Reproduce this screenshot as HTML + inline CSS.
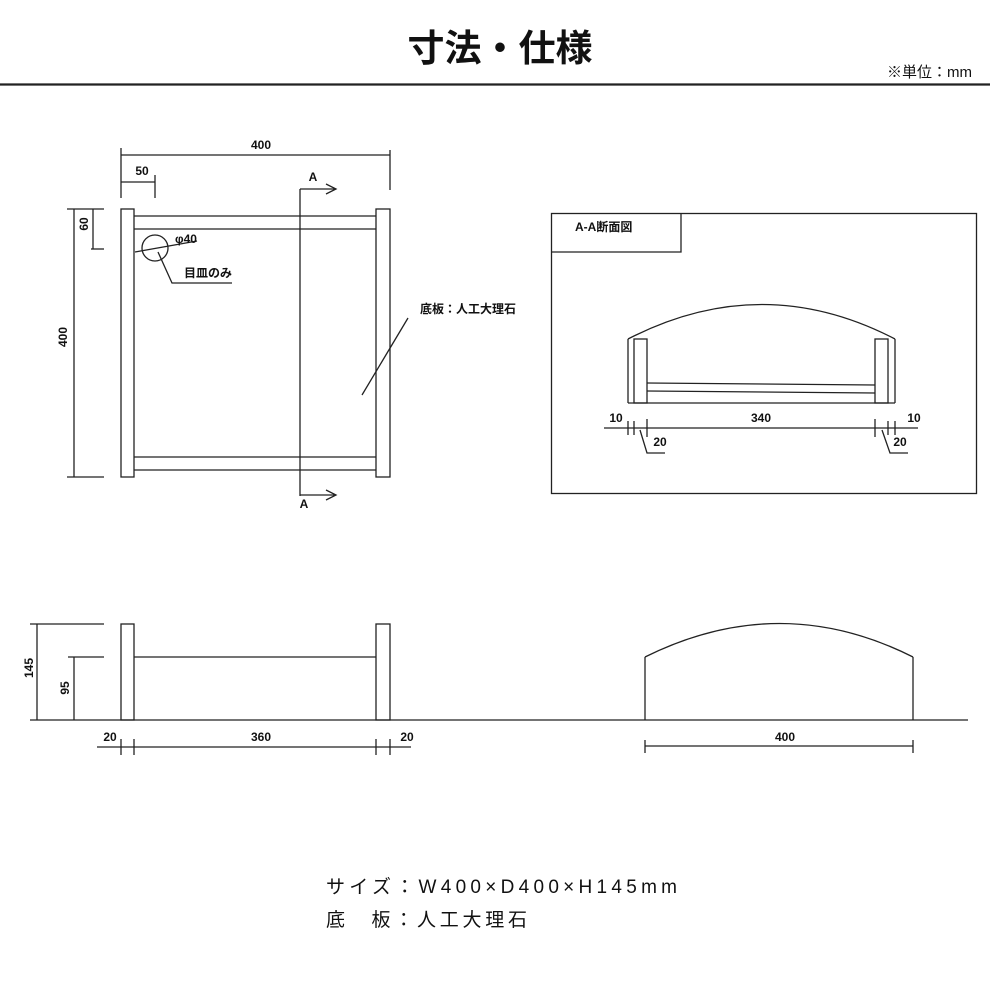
<!DOCTYPE html>
<html><head><meta charset="utf-8"><style>
html,body{margin:0;padding:0;background:#fff;}
svg{display:block;}
text{font-family:"Liberation Sans","Noto Sans CJK JP",sans-serif;fill:#111;}
</style></head><body>
<svg width="1000" height="1000" viewBox="0 0 1000 1000" xmlns="http://www.w3.org/2000/svg">
<g stroke="#222" stroke-width="1.3" fill="none">
<line x1="0" y1="84.5" x2="990" y2="84.5" stroke-width="2.2"/>
<rect x="121" y="209" width="13" height="268"/>
<rect x="376" y="209" width="14" height="268"/>
<line x1="134" y1="216" x2="376" y2="216"/>
<line x1="134" y1="229" x2="376" y2="229"/>
<line x1="134" y1="457" x2="376" y2="457"/>
<line x1="134" y1="470" x2="376" y2="470"/>
<line x1="121" y1="155" x2="390" y2="155"/>
<line x1="121" y1="148" x2="121" y2="198"/>
<line x1="390" y1="150" x2="390" y2="190"/>
<line x1="121" y1="182" x2="155" y2="182"/>
<line x1="155" y1="175" x2="155" y2="198"/>
<line x1="74" y1="209" x2="74" y2="477"/>
<line x1="67" y1="209" x2="104" y2="209"/>
<line x1="67" y1="477" x2="104" y2="477"/>
<line x1="93" y1="209" x2="93" y2="249"/>
<line x1="91" y1="249" x2="104" y2="249"/>
<line x1="300" y1="189" x2="300" y2="496"/>
<line x1="300" y1="189" x2="336" y2="189"/>
<polyline points="326,184 336,189 326,194"/>
<line x1="300" y1="495" x2="336" y2="495"/>
<polyline points="326,490 336,495 326,500"/>
<circle cx="155" cy="248" r="13"/>
<line x1="135" y1="252" x2="197" y2="241"/>
<polyline points="158,252 172,283 232,283"/>
<line x1="362" y1="395" x2="408" y2="318"/>
<rect x="551.5" y="213.5" width="425" height="280"/>
<polyline points="551.5,252 681,252 681,213.5"/>
<path d="M628,339 Q762,270 895,339"/>
<line x1="628" y1="339" x2="628" y2="403"/>
<line x1="895" y1="339" x2="895" y2="403"/>
<rect x="634" y="339" width="13" height="64"/>
<rect x="875" y="339" width="13" height="64"/>
<line x1="647" y1="383" x2="875" y2="385"/>
<line x1="647" y1="391" x2="875" y2="393"/>
<line x1="628" y1="403" x2="895" y2="403"/>
<line x1="604" y1="428" x2="918" y2="428"/>
<line x1="628" y1="421" x2="628" y2="435"/>
<line x1="634" y1="421" x2="634" y2="435"/>
<line x1="647" y1="419" x2="647" y2="437"/>
<line x1="875" y1="419" x2="875" y2="437"/>
<line x1="888" y1="421" x2="888" y2="435"/>
<line x1="895" y1="421" x2="895" y2="435"/>
<polyline points="640,430 647,453 665,453"/>
<polyline points="882,430 890,453 908,453"/>
<line x1="30" y1="720" x2="968" y2="720"/>
<rect x="121" y="624" width="13" height="96"/>
<rect x="376" y="624" width="14" height="96"/>
<line x1="134" y1="657" x2="376" y2="657"/>
<line x1="37" y1="624" x2="37" y2="720"/>
<line x1="30" y1="624" x2="104" y2="624"/>
<line x1="74" y1="657" x2="74" y2="720"/>
<line x1="68" y1="657" x2="104" y2="657"/>
<line x1="97" y1="747" x2="411" y2="747"/>
<line x1="121" y1="739" x2="121" y2="755"/>
<line x1="134" y1="739" x2="134" y2="755"/>
<line x1="376" y1="739" x2="376" y2="755"/>
<line x1="390" y1="739" x2="390" y2="755"/>
<path d="M645,657 Q780,590 913,657"/>
<line x1="645" y1="657" x2="645" y2="720"/>
<line x1="913" y1="657" x2="913" y2="720"/>
<line x1="645" y1="746" x2="913" y2="746"/>
<line x1="645" y1="740" x2="645" y2="753"/>
<line x1="913" y1="740" x2="913" y2="753"/>
</g>
<text x="500" y="61" font-size="37" font-weight="bold" text-anchor="middle">寸法・仕様</text>
<text x="972" y="77" font-size="15" text-anchor="end">※単位：mm</text>
<g font-size="12" font-weight="bold">
<text x="261" y="149" text-anchor="middle">400</text>
<text x="142" y="175" text-anchor="middle">50</text>
<text x="313" y="181" text-anchor="middle">A</text>
<text x="304" y="508" text-anchor="middle">A</text>
<text x="175" y="243">φ40</text>
<text x="184" y="277">目皿のみ</text>
<text x="420" y="313">底板：人工大理石</text>
<text transform="translate(67,337) rotate(-90)" text-anchor="middle">400</text>
<text transform="translate(88,224) rotate(-90)" text-anchor="middle">60</text>
<text x="575" y="231">A-A断面図</text>
<text x="616" y="422" text-anchor="middle">10</text>
<text x="761" y="422" text-anchor="middle">340</text>
<text x="914" y="422" text-anchor="middle">10</text>
<text x="660" y="446" text-anchor="middle">20</text>
<text x="900" y="446" text-anchor="middle">20</text>
<text transform="translate(33,668) rotate(-90)" text-anchor="middle">145</text>
<text transform="translate(69,688) rotate(-90)" text-anchor="middle">95</text>
<text x="110" y="741" text-anchor="middle">20</text>
<text x="261" y="741" text-anchor="middle">360</text>
<text x="407" y="741" text-anchor="middle">20</text>
<text x="785" y="741" text-anchor="middle">400</text>
</g>
<text x="326" y="893" font-size="19" textLength="351" lengthAdjust="spacing">サイズ：W400×D400×H145mm</text>
<text x="326" y="926" font-size="19" textLength="201" lengthAdjust="spacing">底　板：人工大理石</text>
</svg>
</body></html>
